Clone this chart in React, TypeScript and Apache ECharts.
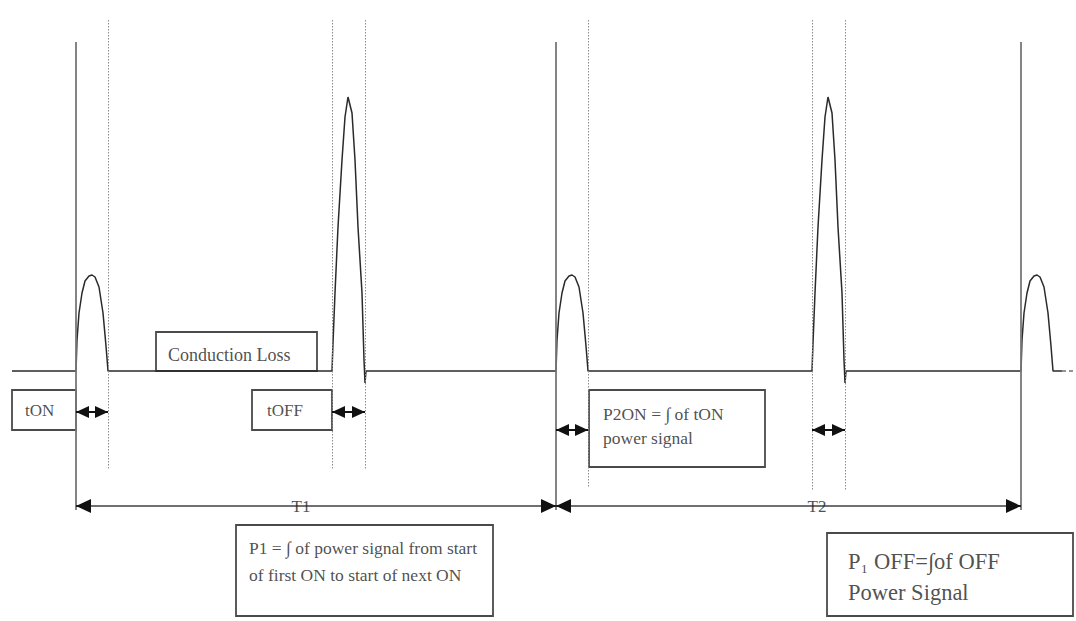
import React, { useEffect, useRef } from "react";
import * as echarts from "echarts";

// ---- diagram data (x = time position, y = vertical position, downward) ----
const BASELINE = 371;
const WAVE_START = 12;
const WAVE_END = 1062;
const TAIL_END = 1075;

// pulse shapes: offsets from pulse start and heights above the baseline
const SMALL_DX = [0, 1, 3, 6, 9, 13, 16, 19, 23, 27, 30, 32];
const SMALL_H = [0, 31, 58, 78, 90, 95, 96, 94, 84, 58, 25, 0];
const BIG_DX = [0, 1, 3, 6, 10, 13, 16, 20, 23, 26, 30, 32, 33, 34];
const BIG_H = [0, 28, 78, 144, 211, 254, 274, 258, 211, 144, 78, 11, -12, 0];

const PULSE_STARTS = [76, 332, 556, 812, 1021];
const PULSE_KINDS = ["small", "big", "small", "big", "small"];

const SOLID_MARKS = [76, 556, 1021];
const SOLID_TOP = 42;
const SOLID_BOTTOM = 510;
const DOTTED_MARKS = [108, 332, 365, 588, 812, 845];
const DOTTED_TOP = 20;
const DOTTED_BOTTOMS = [470, 470, 470, 488, 490, 490];

// small double arrows [x0, x1, y]
const SMALL_ARROWS = [
  [76, 108, 412],
  [332, 365, 412],
  [556, 588, 430],
  [812, 845, 430],
];
// period arrows
const PERIOD_LABELS = ["T1", "T2"];
const PERIOD_FROM = [76, 556];
const PERIOD_TO = [556, 1021];
const PERIOD_Y = 506;
const PERIOD_LABEL_X = [301, 817];
const HEAD_LEN = 15;

// boxes [x0, y0, x1, y1]
const BOXES = [
  [12, 390, 76, 430],
  [156, 332, 317, 371],
  [252, 390, 332, 430],
  [589, 390, 765, 467],
  [236, 525, 493, 616],
  [827, 533, 1073, 616],
];
const BOX_TEXTS = [
  "tON",
  "Conduction Loss",
  "tOFF",
  "P2ON = ∫ of tON\npower signal",
  "P1 = ∫ of power signal from start\nof first ON to start of next ON",
  "P₁ OFF=∫of OFF\nPower Signal",
];
const BOX_TEXT_X = [25, 168, 267, 603, 249, 848];
const BOX_TEXT_Y = [410, 355, 410, 426, 561, 577];
const BOX_TEXT_SIZE = [17, 18, 17, 17.5, 17.5, 22.5];
const BOX_TEXT_LH = [20, 20, 20, 24, 27, 31];

const FONT = "'Liberation Serif', 'DejaVu Serif', serif";

function buildWave(): number[][] {
  const pts: number[][] = [[WAVE_START, BASELINE]];
  PULSE_STARTS.forEach((s, i) => {
    const dx = PULSE_KINDS[i] === "small" ? SMALL_DX : BIG_DX;
    const h = PULSE_KINDS[i] === "small" ? SMALL_H : BIG_H;
    dx.forEach((d, j) => pts.push([s + d, BASELINE - h[j]]));
  });
  pts.push([WAVE_END, BASELINE]);
  return pts;
}

export default function App() {
  const ref = useRef<HTMLDivElement>(null);
  useEffect(() => {
    if (!ref.current) return;
    const chart = echarts.init(ref.current, undefined, { renderer: "svg" });
    const wave = buildWave();

    const solidLines = SOLID_MARKS.map((x) => [
      { coord: [x, SOLID_TOP] },
      { coord: [x, SOLID_BOTTOM] },
    ]);
    const dottedLines = DOTTED_MARKS.map((x, i) => [
      { coord: [x, DOTTED_TOP] },
      { coord: [x, DOTTED_BOTTOMS[i]] },
    ]);
    const smallArrows = SMALL_ARROWS.map((a) => [
      { coord: [a[0], a[2]] },
      { coord: [a[1], a[2]] },
    ]);
    const periodLines = PERIOD_LABELS.map((_, i) => [
      { coord: [PERIOD_FROM[i], PERIOD_Y] },
      { coord: [PERIOD_TO[i], PERIOD_Y] },
    ]);
    const periodHeads: any[] = [];
    PERIOD_LABELS.forEach((_, i) => {
      periodHeads.push([
        { coord: [PERIOD_FROM[i], PERIOD_Y] },
        { coord: [PERIOD_FROM[i] + HEAD_LEN, PERIOD_Y] },
      ]);
      periodHeads.push([
        { coord: [PERIOD_TO[i], PERIOD_Y] },
        { coord: [PERIOD_TO[i] - HEAD_LEN, PERIOD_Y] },
      ]);
    });
    const boxAreas = BOXES.map((b) => [
      { coord: [b[0], b[1]] },
      { coord: [b[2], b[3]] },
    ]);

    const textData = BOX_TEXTS.map((t, i) => ({
      value: [BOX_TEXT_X[i], BOX_TEXT_Y[i]],
      label: {
        show: true,
        formatter: t,
        fontSize: BOX_TEXT_SIZE[i],
        lineHeight: BOX_TEXT_LH[i],
      },
    }));
    const periodText = PERIOD_LABELS.map((t, i) => ({
      value: [PERIOD_LABEL_X[i], PERIOD_Y],
      label: { show: true, formatter: t, fontSize: 17, align: "center" },
    }));

    chart.setOption({
      animation: false,
      backgroundColor: "#ffffff",
      grid: { left: 0, right: 0, top: 0, bottom: 0 },
      xAxis: { type: "value", min: 0, max: 1076, show: false },
      yAxis: { type: "value", min: 0, max: 621, inverse: true, show: false },
      series: [
        {
          type: "line",
          name: "boxes",
          data: [],
          silent: true,
          markArea: {
            silent: true,
            itemStyle: {
              color: "rgba(255,255,255,0)",
              borderColor: "#4a4a4a",
              borderWidth: 1.8,
            },
            label: { show: false },
            data: boxAreas,
          },
          z: 1,
        },
        {
          type: "line",
          name: "dotted",
          data: [],
          silent: true,
          markLine: {
            silent: true,
            symbol: ["none", "none"],
            label: { show: false },
            lineStyle: { color: "#8a8a8a", width: 1, type: [1.5, 1.5] },
            data: dottedLines,
          },
          z: 2,
        },
        {
          type: "line",
          name: "solid",
          data: [],
          silent: true,
          markLine: {
            silent: true,
            symbol: ["none", "none"],
            label: { show: false },
            lineStyle: { color: "#777", width: 1.8, type: "solid" },
            data: solidLines,
          },
          z: 3,
        },
        {
          type: "line",
          name: "wave",
          data: wave,
          showSymbol: false,
          silent: true,
          lineStyle: { color: "#2a2a2a", width: 1.5 },
          z: 4,
        },
        {
          type: "line",
          name: "tail",
          data: [
            [WAVE_END, BASELINE],
            [TAIL_END, BASELINE],
          ],
          showSymbol: false,
          silent: true,
          lineStyle: { color: "#2a2a2a", width: 1.2, type: [4, 3] },
          z: 4,
        },
        {
          type: "line",
          name: "arrows",
          data: [],
          silent: true,
          markLine: {
            silent: true,
            symbol: ["triangle", "triangle"],
            symbolSize: [12, 13],
            symbolOffset: [[0, 6.5], [0, 6.5]],
            label: { show: false },
            lineStyle: { color: "#111", width: 2, type: "solid" },
            data: smallArrows,
          },
          z: 5,
        },
        {
          type: "line",
          name: "periods",
          data: [],
          silent: true,
          markLine: {
            silent: true,
            symbol: ["none", "none"],
            label: { show: false },
            lineStyle: { color: "#707070", width: 2, type: "solid" },
            data: periodLines,
          },
          z: 5,
        },
        {
          type: "line",
          name: "periodHeads",
          data: [],
          silent: true,
          markLine: {
            silent: true,
            symbol: ["triangle", "none"],
            symbolSize: [14, 15],
            symbolOffset: [[0, 7.5], [0, 0]],
            label: { show: false },
            lineStyle: { color: "#111", width: 1.5, type: "solid" },
            data: periodHeads,
          },
          z: 6,
        },
        {
          type: "scatter",
          name: "texts",
          symbolSize: 1,
          silent: true,
          itemStyle: { color: "rgba(0,0,0,0)" },
          label: {
            show: true,
            position: "inside",
            align: "left",
            verticalAlign: "middle",
            color: "#222",
            fontFamily: FONT,
          },
          data: [...textData, ...periodText],
          z: 7,
        },
      ],
    });
    return () => chart.dispose();
  }, []);
  return (
    <div
      ref={ref}
      style={{ position: "fixed", left: 0, top: 0, width: 1076, height: 621, background: "#fff" }}
    />
  );
}
